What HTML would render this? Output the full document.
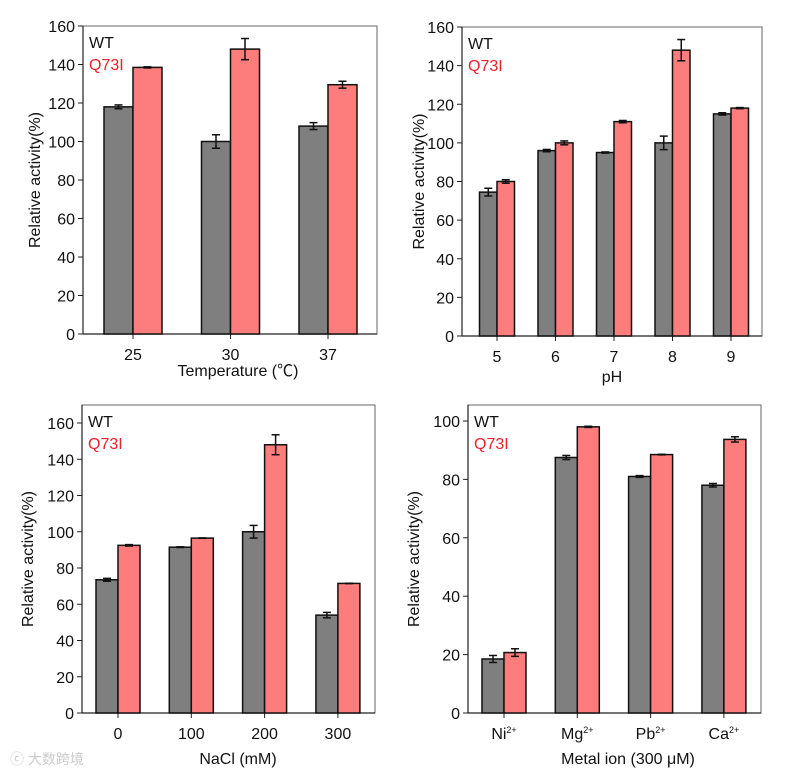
<!DOCTYPE html>
<html><head><meta charset="utf-8"><style>
body{margin:0;background:#fff;width:799px;height:774px;overflow:hidden}
svg text{font-family:"Liberation Sans","Noto Sans CJK SC",sans-serif}
</style></head><body>
<svg id="fig" width="799" height="774" xmlns="http://www.w3.org/2000/svg"></svg>
<script>
// Panel A: temperature
const tempCats=["25","30","37"];
const tempWT=[118,100,108];
const tempWTerr=[1,3.5,1.8];
const tempQ=[138.5,148,129.5];
const tempQerr=[0.3,5.5,1.8];
const tempTicks=[0,20,40,60,80,100,120,140,160];
// Panel B: pH
const phCats=["5","6","7","8","9"];
const phWT=[74.5,96,95,100,115];
const phWTerr=[2,0.6,0.3,3.5,0.6];
const phQ=[80,100,111,148,118];
const phQerr=[0.9,1,0.6,5.5,0.3];
const phTicks=[0,20,40,60,80,100,120,140,160];
// Panel C: NaCl
const naCats=["0","100","200","300"];
const naWT=[73.5,91.5,100,54];
const naWTerr=[0.8,0.2,3.5,1.5];
const naQ=[92.5,96.5,148,71.5];
const naQerr=[0.4,0.1,5.5,0.1];
const naTicks=[0,20,40,60,80,100,120,140,160];
// Panel D: metal ions
const metCats=["Ni","Mg","Pb","Ca"];
const metWT=[18.5,87.5,81,78];
const metWTerr=[1.2,0.7,0.3,0.6];
const metQ=[20.7,98,88.5,93.7];
const metQerr=[1.3,0.2,0.1,0.9];
const metTicks=[0,20,40,60,80,100];

const NS="http://www.w3.org/2000/svg";
const svg=document.getElementById('fig');
function mk(tag,attrs,parent,text){const e=document.createElementNS(NS,tag);for(const k in attrs)e.setAttribute(k,attrs[k]);if(text!==undefined)e.textContent=text;(parent||svg).appendChild(e);return e;}

function panel(p){
  const g=mk('g',{});
  
  
  const y=v=>p.y0-(v/p.ymax)*(p.y0-p.yTop);
  const box=mk('rect',{x:p.left,y:p.top,width:p.right-p.left,height:p.y0-p.top,fill:'none',stroke:'#666','stroke-width':1},g);
  
  
  mk('line',{x1:p.left,y1:p.top,x2:p.left,y2:p.y0,stroke:'#222','stroke-width':1.2},g);
  mk('line',{x1:p.left,y1:p.y0,x2:p.right,y2:p.y0,stroke:'#222','stroke-width':1.2},g);
  p.ticks.forEach(t=>{
    mk('line',{x1:p.left-5,y1:y(t),x2:p.left,y2:y(t),stroke:'#222'},g);
    const tl=mk('text',{x:p.left-8,y:y(t)+6,'text-anchor':'end','font-size':16,fill:'#111'},g,String(t));
    
    
  });
  p.cats.forEach((c,i)=>{
    const cx=p.x0+i*p.step;
    mk('line',{x1:cx,y1:p.y0,x2:cx,y2:p.y0+5,stroke:'#222'},g);
    const tl=mk('text',{x:cx,y:p.y0+26,'text-anchor':'middle','font-size':16,fill:'#111'},g,c);
    
    
    if(p.sup){mk('tspan',{'font-size':9,dy:-6},tl,'2+');}
    const bars=[[p.wt[i],p.wte[i],cx-p.bw,'#7f7f7f','bar-wt'],[p.q[i],p.qe[i],cx,'#fd7c7c','bar-q73i']];
    bars.forEach(b=>{
      const r=mk('rect',{x:b[2],y:y(b[0]),width:p.bw,height:p.y0-y(b[0]),fill:b[3],stroke:'#111','stroke-width':1.5},g);
      
      
      const ex=b[2]+p.bw/2;
      const eg=mk('g',{stroke:'#111','stroke-width':1.5},g);
      
      
      mk('line',{x1:ex,y1:y(b[0]+b[1]),x2:ex,y2:y(b[0]-b[1])},eg);
      mk('line',{x1:ex-4,y1:y(b[0]+b[1]),x2:ex+4,y2:y(b[0]+b[1])},eg);
      mk('line',{x1:ex-4,y1:y(b[0]-b[1]),x2:ex+4,y2:y(b[0]-b[1])},eg);
    });
  });
  const l1=mk('text',{x:p.left+6,y:p.top+22,'font-size':16,fill:'#111'},g,'WT');
  
  
  const l2=mk('text',{x:p.left+6,y:p.top+44,'font-size':16,fill:'#e8212b'},g,'Q73I');
  
  
  const mid=(p.y0+p.top)/2;
  const yt=mk('text',{x:p.ytx,y:mid,'text-anchor':'middle','font-size':16,fill:'#111',transform:`rotate(-90 ${p.ytx} ${mid})`},g,'Relative activity(%)');
  
  
  const xt=mk('text',{x:p.xtx,y:p.xty,'text-anchor':'middle','font-size':16,fill:'#111'},g,p.xtitle);
  
  
}

panel({name:'temperature-panel',cats:tempCats,wt:tempWT,wte:tempWTerr,q:tempQ,qe:tempQerr,ticks:tempTicks,
  left:83,right:377,top:26,y0:334,yTop:26,ymax:160,x0:133,step:97.5,bw:29,ytx:40,xtx:238,xty:376,xtitle:'Temperature (℃)'});
panel({name:'ph-panel',cats:phCats,wt:phWT,wte:phWTerr,q:phQ,qe:phQerr,ticks:phTicks,
  left:462,right:762,top:27,y0:336,yTop:27,ymax:160,x0:497,step:58.5,bw:17.5,ytx:424,xtx:612,xty:382,xtitle:'pH'});
panel({name:'nacl-panel',cats:naCats,wt:naWT,wte:naWTerr,q:naQ,qe:naQerr,ticks:naTicks,
  left:82,right:375,top:405,y0:713,yTop:423,ymax:160,x0:118,step:73.3,bw:22,ytx:33,xtx:238,xty:764,xtitle:'NaCl (mM)'});
panel({name:'metal-ion-panel',cats:metCats,wt:metWT,wte:metWTerr,q:metQ,qe:metQerr,ticks:metTicks,sup:true,
  left:468,right:761,top:405,y0:713,yTop:421,ymax:100,x0:504,step:73.3,bw:22,ytx:419,xtx:628,xty:764,xtitle:'Metal ion (300 μM)'});

const wm=mk('text',{x:10,y:764,'font-size':14,fill:'#ccc'},svg,'ⓒ 大数跨境');


</script>
</body></html>
